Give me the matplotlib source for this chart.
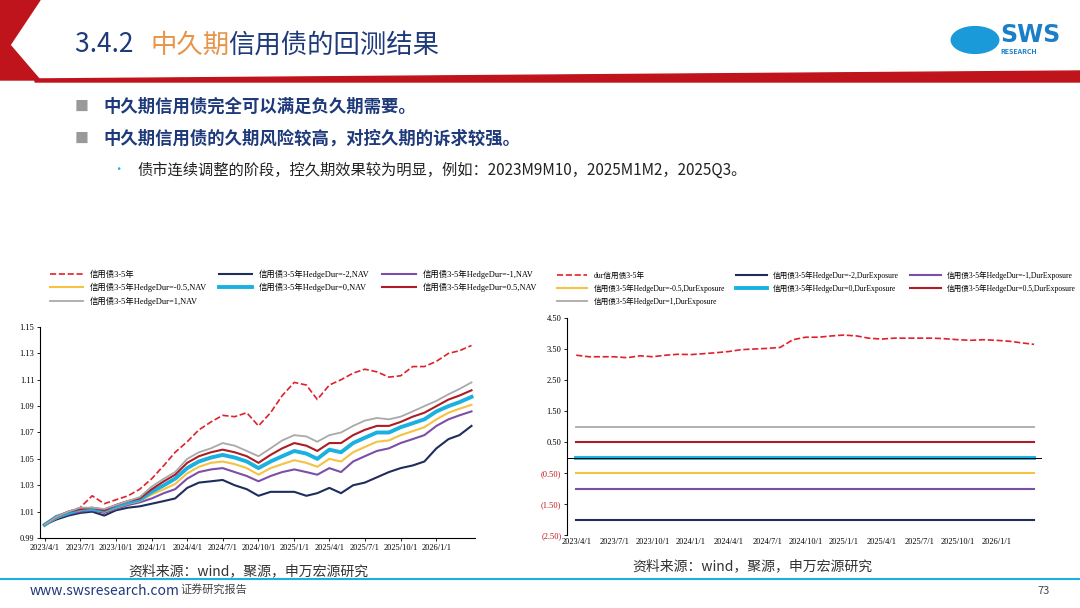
import matplotlib.pyplot as plt
import matplotlib.patches as mpatches
import pandas as pd

plt.rcParams['font.family'] = ['Noto Sans CJK SC', 'DejaVu Sans']
SERIF = ['Liberation Serif', 'Noto Sans CJK SC']

dates = pd.date_range('2023-04-01', '2026-04-01', freq='MS')

# NAV (left chart), monthly readings
nav_bench = [1.000, 1.005, 1.010, 1.013, 1.022, 1.016, 1.019, 1.022, 1.027, 1.035, 1.045, 1.055, 1.063,
             1.072, 1.078, 1.083, 1.082, 1.085, 1.075, 1.085, 1.098, 1.108, 1.106, 1.095, 1.106, 1.110,
             1.115, 1.118, 1.116, 1.112, 1.113, 1.120, 1.120, 1.124, 1.130, 1.132, 1.136]
nav_m2 = [1.000, 1.004, 1.007, 1.009, 1.010, 1.007, 1.011, 1.013, 1.014, 1.016, 1.018, 1.020, 1.028,
          1.032, 1.033, 1.034, 1.030, 1.027, 1.022, 1.025, 1.025, 1.025, 1.022, 1.024, 1.028, 1.024,
          1.030, 1.032, 1.036, 1.040, 1.043, 1.045, 1.048, 1.058, 1.065, 1.068, 1.075]
nav_m1 = [1.000, 1.005, 1.008, 1.010, 1.011, 1.009, 1.012, 1.015, 1.017, 1.020, 1.024, 1.027, 1.035,
          1.040, 1.042, 1.043, 1.040, 1.037, 1.033, 1.037, 1.040, 1.042, 1.040, 1.038, 1.043, 1.040,
          1.048, 1.052, 1.056, 1.058, 1.062, 1.065, 1.068, 1.075, 1.080, 1.083, 1.086]
nav_m05 = [1.000, 1.005, 1.009, 1.011, 1.012, 1.010, 1.013, 1.016, 1.018, 1.023, 1.027, 1.031, 1.039,
           1.044, 1.047, 1.048, 1.046, 1.043, 1.038, 1.043, 1.046, 1.049, 1.047, 1.044, 1.050, 1.048,
           1.055, 1.059, 1.063, 1.064, 1.068, 1.071, 1.074, 1.080, 1.085, 1.088, 1.091]
nav_0 = [1.000, 1.006, 1.009, 1.012, 1.012, 1.011, 1.014, 1.017, 1.019, 1.025, 1.030, 1.035, 1.043,
         1.048, 1.051, 1.053, 1.051, 1.048, 1.043, 1.048, 1.052, 1.056, 1.054, 1.050, 1.057, 1.055,
         1.062, 1.066, 1.070, 1.070, 1.074, 1.077, 1.080, 1.086, 1.090, 1.093, 1.097]
nav_p05 = [1.000, 1.006, 1.010, 1.012, 1.013, 1.011, 1.015, 1.018, 1.020, 1.027, 1.033, 1.038, 1.047,
           1.052, 1.055, 1.057, 1.055, 1.052, 1.047, 1.053, 1.058, 1.062, 1.060, 1.056, 1.062, 1.062,
           1.068, 1.072, 1.075, 1.075, 1.078, 1.082, 1.085, 1.090, 1.095, 1.098, 1.102]
nav_p1 = [1.000, 1.006, 1.010, 1.013, 1.013, 1.012, 1.015, 1.018, 1.021, 1.029, 1.035, 1.040, 1.050,
          1.055, 1.058, 1.062, 1.060, 1.056, 1.052, 1.058, 1.064, 1.068, 1.067, 1.063, 1.068, 1.070,
          1.075, 1.079, 1.081, 1.080, 1.082, 1.086, 1.090, 1.094, 1.099, 1.103, 1.108]

# duration exposure (right chart)
dur_bench = [3.30, 3.25, 3.25, 3.25, 3.22, 3.28, 3.25, 3.30, 3.33, 3.32, 3.35, 3.38, 3.42, 3.48, 3.50,
             3.52, 3.55, 3.80, 3.88, 3.88, 3.92, 3.95, 3.92, 3.85, 3.82, 3.85, 3.85, 3.85, 3.85, 3.83,
             3.80, 3.78, 3.80, 3.78, 3.75, 3.70, 3.65]
hedge_levels = [-2, -1, -0.5, 0, 0.5, 1]

colors = ['#1f2d5c', '#7b4fa8', '#f5c242', '#1ab0e0', '#b01c24', '#a9a9a9']
widths = [1.5, 1.5, 1.5, 2.8, 1.5, 1.3]
hedge_names = ['-2', '-1', '-0.5', '0', '0.5', '1']
navs = [nav_m2, nav_m1, nav_m05, nav_0, nav_p05, nav_p1]
legend_order = [0, 3, 6, 1, 4, 2, 5]  # row-wise reading with ncol=3

fig = plt.figure(figsize=(10.8, 6.08), dpi=100)
W, H = 1080, 608

# header decoration
fig.patches.append(mpatches.Polygon([[0, 1], [40/W, 1], [10/W, 1 - 45/H], [40/W, 1 - 80/H],
                                     [0, 1 - 80/H]], closed=True, color='#c0141c', transform=fig.transFigure))
fig.patches.append(mpatches.Polygon([[35/W, 1 - 79/H], [1, 1 - 71/H], [1, 1 - 82/H], [35/W, 1 - 82/H]],
                                    closed=True, color='#c0141c', transform=fig.transFigure))
fig.text(75/W, 1 - 45/H, '3.4.2 ', fontsize=19, color='#1f3a7a', va='center')
fig.text(150/W, 1 - 45/H, '中久期', fontsize=19, color='#e8954a', va='center')
fig.text(228/W, 1 - 45/H, '信用债的回测结果', fontsize=19, color='#1f3a7a', va='center')
fig.text(1000/W, 1 - 35/H, 'SWS', fontsize=17, color='#1a7fc8', weight='bold', va='center', ha='left', family='DejaVu Sans')
fig.text(1000/W, 1 - 51/H, 'RESEARCH', fontsize=5, color='#1a7fc8', weight='bold', va='center')
fig.patches.append(mpatches.Circle((975/W, 1 - 40/H), 0.022, color='#1a9ad8', transform=fig.transFigure))

fig.text(75/W, 1 - 107/H, '■', fontsize=10, color='#999999', va='center')
fig.text(103/W, 1 - 107/H, '中久期信用债完全可以满足负久期需要。', fontsize=12.5, color='#1f3a7a', weight='bold', va='center')
fig.text(75/W, 1 - 139/H, '■', fontsize=10, color='#999999', va='center')
fig.text(103/W, 1 - 139/H, '中久期信用债的久期风险较高，对控久期的诉求较强。', fontsize=12.5, color='#1f3a7a', weight='bold', va='center')
fig.text(112/W, 1 - 170/H, '•', fontsize=9, color='#1ab0e0', va='center')
fig.text(137/W, 1 - 170/H, '债市连续调整的阶段，控久期效果较为明显，例如：2023M9M10，2025M1M2，2025Q3。',
         fontsize=11, color='#222222', va='center')

# footer
fig.add_artist(plt.Line2D([0, 1], [1 - 579/H, 1 - 579/H], color='#1ab0e0', lw=1.5))
fig.text(30/W, 1 - 591/H, 'www.swsresearch.com', fontsize=10, color='#1f3a7a', va='center')
fig.text(180/W, 1 - 589/H, '证券研究报告', fontsize=8, color='#444444', va='center')
fig.text(1050/W, 1 - 591/H, '73', fontsize=8, color='#444444', va='center', ha='right')
fig.text(128/W, 1 - 571/H, '资料来源：wind，聚源，申万宏源研究', fontsize=10, color='#333333', va='center')
fig.text(632/W, 1 - 566/H, '资料来源：wind，聚源，申万宏源研究', fontsize=10, color='#333333', va='center')

xt = pd.date_range('2023-04-01', '2026-01-01', freq='QS')
xl = [f'{d.year}/{d.month}/1' for d in xt]

# left chart
ax1 = fig.add_axes([40/W, 1 - 538/H, 435/W, 211/H])
ax1.plot(dates, nav_bench, color='#e0202a', ls='--', lw=1.2, label='信用债3-5年')
for n, c, w, h in zip(navs, colors, widths, hedge_names):
    ax1.plot(dates, n, color=c, lw=w, label=f'信用债3-5年HedgeDur={h},NAV')
ax1.set_ylim(0.99, 1.15)
ax1.set_yticks([0.99, 1.01, 1.03, 1.05, 1.07, 1.09, 1.11, 1.13, 1.15])
ax1.set_yticklabels([f'{v:.2f}' for v in ax1.get_yticks()], family=SERIF, fontsize=6)
ax1.set_xlim(pd.Timestamp('2023-03-20'), pd.Timestamp('2026-04-10'))
ax1.set_xticks(xt)
ax1.set_xticklabels(xl, family=SERIF, fontsize=6)
for s in ['top', 'right']:
    ax1.spines[s].set_visible(False)
ax1.tick_params(length=2, width=0.6, pad=2)
h1, l1 = ax1.get_legend_handles_labels()
fig.legend([h1[i] for i in legend_order], [l1[i] for i in legend_order], loc='upper left',
           bbox_to_anchor=(42/W, 1 - 262/H), ncol=3, frameon=False,
           prop={'family': SERIF, 'size': 6}, handlelength=4, columnspacing=1.5, labelspacing=0.5)

# right chart
ax2 = fig.add_axes([567/W, 1 - 535/H, 475/W, 217/H])
ax2.plot(dates, dur_bench, color='#e0202a', ls='--', lw=1.2, label='dur信用债3-5年')
for lv, c, w, h in zip(hedge_levels, colors, widths, hedge_names):
    ax2.plot(dates, [lv] * len(dates), color=c, lw=w, label=f'信用债3-5年HedgeDur={h},DurExposure')
ax2.axhline(0, color='black', lw=0.7)
ax2.set_ylim(-2.5, 4.5)
yt2 = [-2.5, -1.5, -0.5, 0.5, 1.5, 2.5, 3.5, 4.5]
ax2.set_yticks(yt2)
ax2.set_yticklabels([f'({abs(v):.2f})' if v < 0 else f'{v:.2f}' for v in yt2], family=SERIF, fontsize=6)
for lab, v in zip(ax2.get_yticklabels(), yt2):
    if v < 0:
        lab.set_color('#c0141c')
ax2.set_xlim(pd.Timestamp('2023-03-10'), pd.Timestamp('2026-04-20'))
ax2.set_xticks(xt)
ax2.set_xticklabels(xl, family=SERIF, fontsize=6)
ax2.tick_params(axis='x', length=0, pad=2)
ax2.tick_params(axis='y', length=2, width=0.6, pad=2)
for s in ['top', 'right', 'bottom']:
    ax2.spines[s].set_visible(False)
h2, l2 = ax2.get_legend_handles_labels()
fig.legend([h2[i] for i in legend_order], [l2[i] for i in legend_order], loc='upper left',
           bbox_to_anchor=(550/W, 1 - 264/H), ncol=3, frameon=False,
           prop={'family': SERIF, 'size': 5.5}, handlelength=4, columnspacing=1.5, labelspacing=0.6)

fig.savefig('out.png', dpi=100)
